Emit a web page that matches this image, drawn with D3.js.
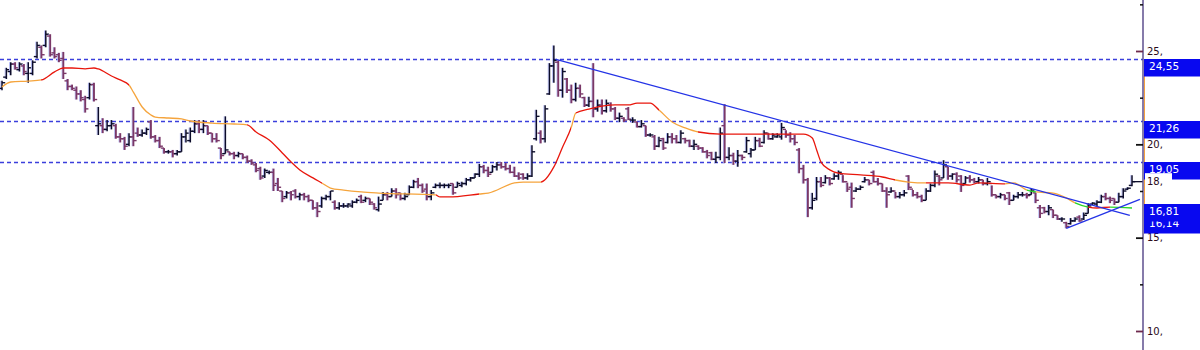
<!DOCTYPE html>
<html>
<head>
<meta charset="utf-8">
<script src="https://cdn.jsdelivr.net/npm/d3@7"></script>
<style>
  body { margin: 0; background: #fff; }
  svg { display: block; font-family: "DejaVu Sans", Verdana, sans-serif; }
</style>
</head>
<body>
<div id="chart"></div>
<script>
// daily OHLC bars
var highs = [
  23.4,24.1,24.4,24.4,24.4,24.3,24.4,24.5,25.5,25.3,
  26.1,25.9,25.2,24.9,24.95,23.5,23.2,23.1,22.9,22.6,
  23.3,23.3,22.0,21.4,21.3,21.3,21.1,20.6,20.4,20.6,
  22.0,20.9,20.8,20.9,21.3,20.5,20.4,19.8,19.7,19.7,
  19.7,20.6,20.8,20.9,21.3,21.3,21.3,21.0,20.6,20.6,
  19.8,21.5,19.6,19.6,19.6,19.5,19.4,19.2,19.0,18.8,
  18.7,18.6,18.7,18.2,17.5,17.5,17.5,17.6,17.4,17.4,
  17.3,17.0,16.9,17.2,17.3,17.5,17.0,16.9,16.85,16.85,
  17.0,17.1,17.3,17.2,17.1,16.85,17.2,17.45,17.45,17.65,
  17.65,17.4,17.4,17.8,18.1,18.2,17.9,17.9,17.55,17.9,
  17.95,17.9,17.9,17.9,18.0,18.0,18.2,18.25,18.45,18.95,
  18.9,18.8,18.9,19.05,19.05,19.0,18.9,18.8,18.5,18.45,
  18.45,19.95,21.85,20.75,22.1,24.35,25.3,24.5,24.1,23.55,
  23.2,23.3,23.2,22.55,22.55,24.35,22.4,22.4,22.4,22.25,
  22.0,21.7,21.45,22.0,21.45,21.2,21.3,21.0,20.6,20.5,
  20.4,20.35,20.6,20.6,20.5,20.75,20.35,20.25,20.25,19.95,
  19.85,19.7,19.6,19.6,20.9,22.15,19.85,19.55,19.7,19.45,
  20.4,19.8,20.4,20.35,20.75,20.6,20.6,20.6,21.15,20.75,
  20.65,20.5,19.8,18.9,18.2,17.4,18.25,18.25,18.35,18.25,
  18.45,18.6,18.35,17.95,17.95,17.7,17.8,18.25,18.1,18.6,
  18.2,17.9,17.7,17.7,17.45,17.45,17.55,18.35,17.55,17.45,
  17.3,17.65,17.9,18.6,18.35,19.15,18.8,18.45,18.5,18.35,
  18.3,18.35,18.2,18.25,18.1,18.2,17.8,17.3,17.4,17.3,
  17.45,17.3,17.45,17.45,17.4,17.65,17.4,16.75,16.65,16.75,
  16.5,16.2,16.1,15.85,16.05,16.1,16.2,16.35,16.85,16.9,
  17.0,17.3,17.4,17.2,17.1,17.4,17.65,17.7,18.35
];
var lows = [
  22.9,23.5,23.7,24.0,23.9,23.7,23.3,23.7,24.6,24.6,
  25.2,24.7,24.6,24.4,23.5,22.9,22.9,22.4,22.3,21.7,
  22.4,22.3,20.5,20.6,20.7,20.8,20.3,20.1,19.7,19.9,
  19.9,20.4,20.4,20.5,20.3,20.1,19.8,19.5,19.5,19.3,
  19.4,19.6,20.1,20.1,20.6,20.6,20.6,20.5,20.1,20.1,
  19.2,19.5,19.4,19.2,19.3,19.2,19.0,18.9,18.5,18.1,
  18.2,18.4,17.5,17.5,16.9,17.1,17.0,17.1,17.0,17.0,
  16.9,16.5,16.1,16.6,17.0,17.0,16.5,16.5,16.6,16.6,
  16.6,16.85,16.85,16.9,16.75,16.5,16.4,17.0,17.0,17.2,
  17.1,17.0,17.0,17.3,17.65,17.65,17.4,17.0,17.0,17.65,
  17.65,17.65,17.65,17.3,17.7,17.7,17.8,18.0,18.2,18.25,
  18.45,18.25,18.5,18.6,18.7,18.6,18.45,18.25,18.1,18.1,
  18.1,18.25,20.2,20.05,20.1,22.65,23.3,22.55,22.5,22.75,
  22.2,22.3,22.5,22.0,22.0,21.45,21.75,21.6,21.7,21.75,
  21.3,21.2,21.2,21.3,21.15,20.9,20.9,20.4,20.4,19.7,
  19.85,19.7,20.05,20.05,20.05,20.05,20.05,19.85,19.7,19.7,
  19.55,19.25,19.15,19.0,19.15,19.0,19.15,18.9,18.8,19.15,
  19.55,19.3,19.7,19.85,20.05,20.25,20.25,20.35,20.25,20.35,
  20.1,19.95,18.45,17.9,16.1,16.5,17.0,17.7,17.9,17.8,
  18.1,18.1,17.95,17.45,16.6,17.45,17.55,17.95,17.8,17.95,
  17.8,17.45,16.6,17.4,17.1,17.1,17.2,17.55,17.2,17.1,
  16.9,17.0,17.45,17.7,17.8,18.2,18.1,18.1,17.95,17.45,
  17.9,17.95,17.9,17.9,17.8,17.8,17.2,17.1,17.1,17.0,
  16.75,17.0,17.1,17.2,17.1,17.3,16.85,16.05,16.3,16.2,
  16.05,15.95,15.85,15.5,15.7,15.85,15.85,15.95,16.3,16.75,
  16.65,16.85,17.0,16.85,16.75,16.9,17.1,17.55,17.75
];
var opens = [
  23.0,23.6,23.9,24.3,24.0,24.2,23.8,23.8,24.7,25.2,
  25.3,25.8,24.9,24.8,24.6,23.4,23.1,22.9,22.7,22.4,
  22.5,23.2,21.0,21.0,20.8,21.0,21.0,20.4,20.3,20.0,
  20.4,20.6,20.5,20.6,21.2,20.4,20.2,19.8,19.6,19.6,
  19.5,19.6,20.4,20.2,20.7,21.1,20.8,21.0,20.6,20.3,
  19.8,19.5,19.6,19.5,19.4,19.5,19.3,19.1,18.9,18.7,
  18.3,18.5,18.5,17.9,17.5,17.2,17.4,17.5,17.2,17.3,
  17.2,17.0,16.6,16.7,17.1,17.2,16.9,16.6,16.7,16.7,
  16.7,16.9,17.2,17.0,17.1,16.8,16.5,17.0,17.3,17.2,
  17.5,17.4,17.1,17.3,17.7,18.0,17.8,17.6,17.2,17.7,
  17.8,17.8,17.8,17.9,17.7,17.8,17.9,18.1,18.2,18.4,
  18.8,18.6,18.5,18.8,18.9,18.8,18.7,18.5,18.3,18.4,
  18.2,18.3,20.3,20.6,20.3,22.7,24.2,24.4,22.9,23.5,
  22.9,22.4,23.0,22.5,22.1,22.3,21.9,22.1,21.8,22.1,
  21.9,21.4,21.4,21.9,21.3,21.2,20.95,21.0,20.5,20.4,
  19.9,20.3,20.1,20.4,20.3,20.1,20.3,20.2,19.9,19.9,
  19.8,19.6,19.55,19.2,19.3,21.0,19.3,19.4,19.1,19.4,
  19.6,19.5,19.7,20.2,20.1,20.6,20.3,20.4,20.4,20.8,
  20.5,20.3,19.7,18.7,18.1,16.6,17.1,18.0,17.95,18.2,
  18.15,18.3,18.4,18.0,17.7,17.5,17.6,18.0,18.1,18.5,
  18.0,17.9,17.5,17.45,17.5,17.2,17.3,18.3,17.6,17.3,
  17.2,17.0,17.5,17.8,18.3,18.2,18.8,18.3,18.4,18.3,
  17.9,18.2,18.1,18.0,18.1,17.9,17.9,17.3,17.2,17.3,
  17.4,17.0,17.2,17.3,17.3,17.3,17.4,16.6,16.6,16.4,
  16.5,16.2,16.0,15.8,15.75,15.9,16.1,16.0,16.3,16.8,
  16.8,16.9,17.2,17.1,17.1,16.9,17.2,17.6,17.8
];
var closes = [
  23.3,24.0,24.3,24.1,24.3,23.9,24.1,24.4,25.3,24.8,
  25.9,24.8,24.7,24.5,23.8,23.1,23.0,22.7,22.5,21.9,
  23.2,22.4,21.1,20.8,21.0,21.1,20.4,20.3,19.9,20.4,
  20.2,20.5,20.6,20.8,20.4,20.2,19.9,19.6,19.6,19.5,
  19.6,20.4,20.6,20.7,21.1,20.8,21.0,20.6,20.3,20.2,
  19.4,19.7,19.5,19.4,19.5,19.3,19.1,19.0,18.6,18.2,
  18.6,18.5,17.8,17.7,17.1,17.4,17.3,17.2,17.3,17.2,
  17.0,16.6,16.4,17.1,17.2,17.5,16.6,16.7,16.7,16.8,
  16.9,17.0,16.9,17.1,16.9,16.6,16.8,17.3,17.2,17.5,
  17.3,17.1,17.2,17.7,18.0,17.8,17.5,17.2,17.4,17.8,
  17.8,17.8,17.8,17.4,17.9,17.9,18.1,18.2,18.4,18.8,
  18.6,18.4,18.8,18.9,18.8,18.7,18.5,18.3,18.2,18.2,
  18.3,19.6,21.5,20.3,21.9,24.2,24.5,22.9,23.9,22.9,
  22.4,23.0,22.7,22.1,22.3,21.9,22.1,21.8,22.2,21.9,
  21.4,21.5,21.3,21.35,21.3,20.95,21.1,20.5,20.5,19.9,
  20.2,19.8,20.4,20.3,20.1,20.6,20.2,19.9,20.0,19.8,
  19.6,19.4,19.2,19.3,20.6,19.3,19.4,19.1,19.4,19.3,
  20.2,19.7,20.2,19.9,20.6,20.3,20.5,20.5,20.9,20.5,
  20.3,20.1,18.7,18.1,16.6,17.0,18.0,17.8,18.2,17.9,
  18.3,18.5,18.0,17.6,17.1,17.6,17.7,18.1,17.9,18.0,
  17.9,17.5,17.3,17.5,17.2,17.3,17.4,17.7,17.3,17.2,
  17.0,17.5,17.8,18.4,18.1,18.9,18.3,18.4,18.1,17.8,
  18.2,18.1,18.0,18.1,17.9,18.0,17.3,17.2,17.3,17.1,
  17.0,17.2,17.3,17.3,17.25,17.55,17.0,16.3,16.4,16.6,
  16.2,16.0,16.0,15.6,15.9,16.0,15.9,16.2,16.7,16.85,
  16.9,17.2,17.1,17.0,16.9,17.2,17.5,17.65,18.0
];

// moving average, read at its turning points (bar index, value, signal)
var maIdx = [0,2,6,9,12,14,16,19,21,22,25,27,29,30,32,34,35,38,41,43,48,53,56,58,61,64,66,68,71,73,75,78,82,86,99,100,102,109,111,117,119,123,126,128,130,131,134,140,143,145,148,150,153,156,159,164,173,183,185,186,187,189,191,196,201,204,207,211,216,221,223,229,231,234,236,240,243,245,248,250,253,258];
var maVal = [23.07,23.34,23.39,23.45,23.88,24.09,24.09,24.04,24.09,24.04,23.66,23.45,23.18,22.80,22.0,21.57,21.46,21.41,21.36,21.25,21.14,21.09,21.04,20.66,20.23,19.54,19.05,18.63,18.20,17.93,17.66,17.55,17.45,17.39,17.29,17.18,17.18,17.34,17.39,17.93,17.98,17.98,18.79,19.86,20.93,21.68,21.89,22.11,22.11,22.21,22.21,21.84,21.20,20.88,20.66,20.55,20.55,20.55,20.34,19.70,19.05,18.63,18.46,18.36,18.25,18.09,17.98,17.93,17.93,17.82,17.93,17.88,17.93,17.55,17.45,17.39,17.13,16.86,16.64,16.59,16.64,16.59];
var maSignal = ["up","up","up","down","down","down","down","down","down","down","down","down","up","up","up","up","up","up","up","up","up","up","down","down","down","down","down","down","down","up","up","up","up","up","down","down","down","up","up","up","up","down","down","down","up","down","down","down","down","down","down","up","up","up","down","down","down","down","down","down","down","down","down","down","down","up","up","down","down","down","down","up","up","cross","up","up","up","cross","down","down","cross","down"];

// trend lines (bar index, value)
var trendDownIdx = [126.5, 257.5], trendDownVal = [24.55, 16.2];
var trendUpIdx = [243, 259.8], trendUpVal = [15.5, 17.05];

var levels = [24.55, 21.26, 19.05];
var priceTags = [16.14, 16.81, 24.55, 21.26, 19.05];
var majorTicks = [10, 15, 20, 25];
var minorTicks = [12.5, 17.5, 22.5, 27.5];
var lastTick = 18;

var W = 1200, H = 350, axisX = 1143;
var svg = d3.select("#chart").append("svg").attr("width", W).attr("height", H);

var x = d3.scaleLinear().domain([0, closes.length - 1]).range([2, 1132]);
var y = d3.scaleLinear().domain([10, 25]).range([331, 51]);
var fmt = function (v) { return d3.format(".2f")(v).replace(".", ","); };
var signalColor = d3.scaleOrdinal().domain(["up", "down", "cross"]).range(["#f5a43c", "#e8160c", "#28d628"]);

// dotted levels
svg.append("g").selectAll("line").data(levels).enter().append("line")
  .attr("x1", 0).attr("x2", axisX)
  .attr("y1", function (d) { return Math.round(y(d)) + 0.5; })
  .attr("y2", function (d) { return Math.round(y(d)) + 0.5; })
  .attr("stroke", "#3b3fdc").attr("stroke-width", 1.6).attr("stroke-dasharray", "4,3");

// bars
var bars = svg.append("g").selectAll("g").data(closes).enter().append("g");
bars.each(function (d, i) {
  var g = d3.select(this), xi = x(i);
  var down = closes[i] < opens[i];
  var c = down ? "#7a3868" : "#0c0c2a";
  g.append("line").attr("x1", xi - 1.2).attr("x2", xi - 1.2)
    .attr("y1", y(highs[i])).attr("y2", y(lows[i]))
    .attr("stroke", "#b4baf4").attr("stroke-width", 1);
  g.append("line").attr("x1", xi).attr("x2", xi)
    .attr("y1", y(highs[i])).attr("y2", y(lows[i]))
    .attr("stroke", c).attr("stroke-width", down ? 1.9 : 1.5);
  g.append("line").attr("x1", xi - 3.2).attr("x2", xi)
    .attr("y1", y(opens[i])).attr("y2", y(opens[i]))
    .attr("stroke", c).attr("stroke-width", 1.4);
  g.append("line").attr("x1", xi).attr("x2", xi + 3.2)
    .attr("y1", y(closes[i])).attr("y2", y(closes[i]))
    .attr("stroke", c).attr("stroke-width", 1.4);
});

// last close to the axis
svg.append("line")
  .attr("x1", x(closes.length - 1)).attr("x2", axisX)
  .attr("y1", y(closes[closes.length - 1])).attr("y2", y(closes[closes.length - 1]))
  .attr("stroke", "#0c0c2a").attr("stroke-width", 1.3);

// moving average: one smooth path, coloured by signal through a hard-stop gradient
var grad = svg.append("defs").append("linearGradient").attr("id", "maGrad")
  .attr("gradientUnits", "userSpaceOnUse").attr("x1", 0).attr("x2", W).attr("y1", 0).attr("y2", 0);
d3.range(maIdx.length - 1).forEach(function (k) {
  var c = signalColor(maSignal[k]);
  grad.append("stop").attr("offset", x(maIdx[k]) / W).attr("stop-color", c);
  grad.append("stop").attr("offset", x(maIdx[k + 1]) / W).attr("stop-color", c);
});
var maLine = d3.line().curve(d3.curveMonotoneX)
  .x(function (d) { return x(d[0]); }).y(function (d) { return y(d[1]); });
svg.append("path")
  .datum(maIdx.map(function (v, k) { return [v, maVal[k]]; }))
  .attr("d", maLine).attr("fill", "none")
  .attr("stroke", "url(#maGrad)").attr("stroke-width", 1.3);

// trend lines
var straight = d3.line().x(function (d) { return x(d[0]); }).y(function (d) { return y(d[1]); });
var trends = [
  trendDownIdx.map(function (v, k) { return [v, trendDownVal[k]]; }),
  trendUpIdx.map(function (v, k) { return [v, trendUpVal[k]]; })
];
svg.append("g").selectAll("path").data(trends).enter().append("path")
  .attr("d", straight).attr("fill", "none")
  .attr("stroke", "#2433e6").attr("stroke-width", 1.3);

// right axis
var axG = svg.append("g").attr("transform", "translate(" + axisX + ",0)");
axG.append("line").attr("x1", 0).attr("x2", 0).attr("y1", 0).attr("y2", H)
  .attr("stroke", "#5e4f8e").attr("stroke-width", 1.5);
axG.append("line").attr("x1", 1.5).attr("x2", 1.5)
  .attr("y1", y(levels[0])).attr("y2", y(priceTags[0]) + 17)
  .attr("stroke", "#f3a040").attr("stroke-width", 1);

var minorAxis = axG.append("g").call(d3.axisRight(y).tickValues(minorTicks)
  .tickSizeInner(-3).tickSizeOuter(0).tickFormat(""));
minorAxis.select(".domain").remove();
minorAxis.selectAll("line").attr("stroke", "#111").attr("stroke-width", 1.5);

// price tags
var tags = svg.append("g").selectAll("g").data(priceTags).enter().append("g")
  .attr("transform", function (d) { return "translate(" + (axisX + 1) + "," + Math.round(y(d)) + ")"; });
tags.append("rect").attr("width", W - axisX).attr("height", 17.5).attr("fill", "#0808f0");
tags.append("text").attr("x", 5).attr("y", 10.5).attr("fill", "#fff")
  .style("font-size", "10.5px").text(fmt);

// last price marker box
svg.append("rect").attr("x", axisX + 2).attr("y", y(lastTick) - 8.5)
  .attr("width", 27).attr("height", 16).attr("fill", "#fff");
svg.append("text").attr("x", axisX + 4).attr("y", y(lastTick)).attr("dy", "0.35em")
  .attr("fill", "#2a0a1a").style("font-size", "10px").text(lastTick + ",");

var majorAxis = axG.append("g").call(d3.axisRight(y).tickValues(majorTicks)
  .tickSizeInner(-7).tickSizeOuter(0).tickPadding(4)
  .tickFormat(function (d) { return d + ","; }));
majorAxis.select(".domain").remove();
majorAxis.selectAll("line")
  .attr("stroke", function (d) { return (d === 25 || d === 10) ? "#6e2a4e" : "#111"; })
  .attr("stroke-width", 1.8);
majorAxis.selectAll("text").attr("fill", "#2a0a1a")
  .style("font-size", "10px").style("font-family", "'DejaVu Sans', Verdana, sans-serif");
</script>
</body>
</html>
